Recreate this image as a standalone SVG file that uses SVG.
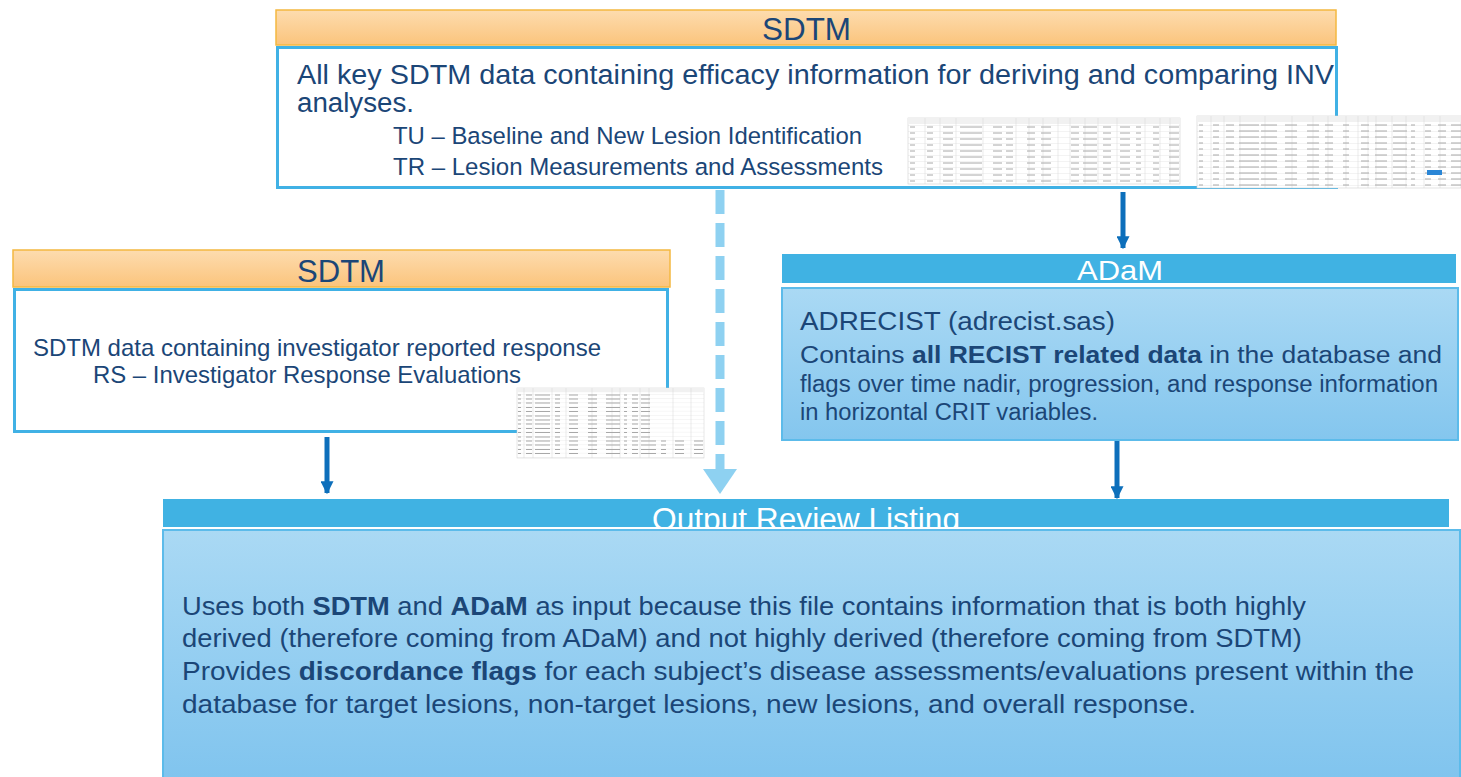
<svg xmlns="http://www.w3.org/2000/svg" width="1461" height="777" viewBox="0 0 1461 777">
<defs>
<linearGradient id="gOrange" x1="0" y1="0" x2="0" y2="1"><stop offset="0" stop-color="#fddcaf"/><stop offset="1" stop-color="#fbc47c"/></linearGradient>
<linearGradient id="gBlue" x1="0" y1="0" x2="0" y2="1"><stop offset="0" stop-color="#aad9f4"/><stop offset="1" stop-color="#84c6ee"/></linearGradient>
<linearGradient id="gBlue2" x1="0" y1="0" x2="0" y2="1"><stop offset="0" stop-color="#aad9f4"/><stop offset="1" stop-color="#80c4ee"/></linearGradient>
<marker id="ah" viewBox="0 0 10 10" refX="9" refY="5" markerWidth="2.6" markerHeight="2.6" orient="auto" markerUnits="strokeWidth"><path d="M0,0 L10,5 L0,10 z" fill="#0d6fbb"/></marker>
<pattern id="rows6" patternUnits="userSpaceOnUse" width="400" height="6"><rect width="400" height="6" fill="#fff"/><line x1="0" y1="5.75" x2="400" y2="5.75" stroke="#dedede" stroke-width="0.5"/></pattern>
<pattern id="rows4" patternUnits="userSpaceOnUse" width="400" height="4.2"><rect width="400" height="4.2" fill="#fff"/><line x1="0" y1="4" x2="400" y2="4" stroke="#dedede" stroke-width="0.4"/></pattern>
<clipPath id="clipOut"><rect x="163" y="499" width="1286" height="28"/></clipPath>
<style>
.hdrO{fill:url(#gOrange);stroke:#f4b840;stroke-width:1.5}
.bodyW{fill:#fff;stroke:#40b1e5;stroke-width:3}
.hdrB{fill:#40b2e3}
.bodyB{stroke:#5cbbea;stroke-width:2}
.t{font-family:"Liberation Sans",Arial,sans-serif;fill:#1b4677}
.hw{font-family:"Liberation Sans",Arial,sans-serif;fill:#ffffff}
.b{font-weight:bold}
.conn{stroke:#0d6fbb;stroke-width:5;fill:none}
.tgrid{stroke:#d4d4d4;stroke-width:0.5}
.tt{stroke:#a8a8a8;stroke-width:1}
</style>
</defs>

<g id="connectors">
<line x1="720" y1="190" x2="720" y2="470" stroke="#8ed1f1" stroke-width="9" stroke-dasharray="24 9"/>
<polygon points="703,469 737,469 720,494" fill="#8ed1f1"/>
<line class="conn" x1="1123" y1="192" x2="1123" y2="248" marker-end="url(#ah)"/>
<line class="conn" x1="327" y1="437" x2="327" y2="493" marker-end="url(#ah)"/>
<line class="conn" x1="1117" y1="441" x2="1117" y2="498" marker-end="url(#ah)"/>
</g>

<g id="sdtm-top">
<rect class="hdrO" x="276" y="10" width="1060" height="35"/>
<text class="t" x="762" y="40" font-size="32" textLength="89" lengthAdjust="spacingAndGlyphs">SDTM</text>
<rect class="bodyW" x="277.5" y="47.5" width="1059" height="140"/>
<text class="t" x="297" y="84" font-size="27" textLength="1037" lengthAdjust="spacingAndGlyphs">All key SDTM data containing efficacy information for deriving and comparing INV</text>
<text class="t" x="297" y="112" font-size="27" textLength="117" lengthAdjust="spacingAndGlyphs">analyses.</text>
<text class="t" x="393" y="144" font-size="24.5" textLength="469" lengthAdjust="spacingAndGlyphs">TU – Baseline and New Lesion Identification</text>
<text class="t" x="393" y="175" font-size="24.5" textLength="490" lengthAdjust="spacingAndGlyphs">TR – Lesion Measurements and Assessments</text>
</g>

<g id="table-tu">
<rect x="908" y="118" width="272" height="66" fill="url(#rows6)" stroke="#d0d0d0" stroke-width="0.6"/>
<rect x="908" y="118" width="272" height="6" fill="#f1f1f1"/>
<g class="tgrid">
<line x1="925" y1="118" x2="925" y2="184"/><line x1="940" y1="118" x2="940" y2="184"/><line x1="956" y1="118" x2="956" y2="184"/><line x1="983" y1="118" x2="983" y2="184"/><line x1="1016" y1="118" x2="1016" y2="184"/><line x1="1029" y1="118" x2="1029" y2="184"/><line x1="1043" y1="118" x2="1043" y2="184"/><line x1="1058" y1="118" x2="1058" y2="184"/><line x1="1070" y1="118" x2="1070" y2="184"/><line x1="1085" y1="118" x2="1085" y2="184"/><line x1="1098" y1="118" x2="1098" y2="184"/><line x1="1117" y1="118" x2="1117" y2="184"/><line x1="1145" y1="118" x2="1145" y2="184"/><line x1="1160" y1="118" x2="1160" y2="184"/><line x1="1170" y1="118" x2="1170" y2="184"/>
</g>
<g class="tt" stroke-dasharray="5 12 6 10 10 7 22 11 9 4 7 14 8 6 10 20 8 4 14 6 8 9 10 6">
<line x1="910" y1="127" x2="1180" y2="127"/><line x1="910" y1="133" x2="1180" y2="133"/><line x1="910" y1="139" x2="1180" y2="139"/><line x1="910" y1="145" x2="1180" y2="145"/><line x1="910" y1="151" x2="1180" y2="151"/><line x1="910" y1="157" x2="1180" y2="157"/><line x1="910" y1="163" x2="1180" y2="163"/><line x1="910" y1="169" x2="1180" y2="169"/><line x1="910" y1="175" x2="1180" y2="175"/><line x1="910" y1="181" x2="1180" y2="181"/>
</g>
</g>

<g id="table-tr">
<rect x="1197" y="116" width="264" height="72" fill="url(#rows6)" stroke="#d0d0d0" stroke-width="0.6"/>
<rect x="1197" y="116" width="264" height="6" fill="#f1f1f1"/>
<g class="tgrid">
<line x1="1211" y1="116" x2="1211" y2="188"/><line x1="1224" y1="116" x2="1224" y2="188"/><line x1="1240" y1="116" x2="1240" y2="188"/><line x1="1265" y1="116" x2="1265" y2="188"/><line x1="1292" y1="116" x2="1292" y2="188"/><line x1="1313" y1="116" x2="1313" y2="188"/><line x1="1328" y1="116" x2="1328" y2="188"/><line x1="1346" y1="116" x2="1346" y2="188"/><line x1="1358" y1="116" x2="1358" y2="188"/><line x1="1368" y1="116" x2="1368" y2="188"/><line x1="1376" y1="116" x2="1376" y2="188"/><line x1="1392" y1="116" x2="1392" y2="188"/><line x1="1406" y1="116" x2="1406" y2="188"/><line x1="1424" y1="116" x2="1424" y2="188"/><line x1="1440" y1="116" x2="1440" y2="188"/>
</g>
<g class="tt" stroke-dasharray="4 10 6 7 8 5 20 2 16 8 12 10 12 6 8 10 6 12 8 6 12 6 14 4">
<line x1="1199" y1="125" x2="1461" y2="125"/><line x1="1199" y1="131" x2="1461" y2="131"/><line x1="1199" y1="137" x2="1461" y2="137"/><line x1="1199" y1="143" x2="1461" y2="143"/><line x1="1199" y1="149" x2="1461" y2="149"/><line x1="1199" y1="155" x2="1461" y2="155"/><line x1="1199" y1="161" x2="1461" y2="161"/><line x1="1199" y1="167" x2="1461" y2="167"/><line x1="1199" y1="173" x2="1461" y2="173"/><line x1="1199" y1="179" x2="1461" y2="179"/><line x1="1199" y1="185" x2="1461" y2="185"/>
</g>
<rect x="1427" y="170" width="15" height="5" fill="#2a86d6"/>
</g>

<g id="sdtm-left">
<rect class="hdrO" x="13" y="250" width="657" height="37"/>
<text class="t" x="297" y="282" font-size="32" textLength="88" lengthAdjust="spacingAndGlyphs">SDTM</text>
<rect class="bodyW" x="14.5" y="289.5" width="653" height="142"/>
<text class="t" x="33" y="356" font-size="24" textLength="568" lengthAdjust="spacingAndGlyphs">SDTM data containing investigator reported response</text>
<text class="t" x="93" y="383" font-size="24" textLength="428" lengthAdjust="spacingAndGlyphs">RS – Investigator Response Evaluations</text>
</g>

<g id="table-rs">
<rect x="517" y="388" width="187" height="70" fill="url(#rows4)" stroke="#d0d0d0" stroke-width="0.5"/>
<rect x="517" y="388" width="187" height="4.2" fill="#f1f1f1"/>
<g class="tgrid">
<line x1="524" y1="388" x2="524" y2="458"/><line x1="533" y1="388" x2="533" y2="458"/><line x1="552" y1="388" x2="552" y2="458"/><line x1="566" y1="388" x2="566" y2="458"/><line x1="592" y1="388" x2="592" y2="458"/><line x1="612" y1="388" x2="612" y2="458"/><line x1="620" y1="388" x2="620" y2="458"/><line x1="640" y1="388" x2="640" y2="458"/><line x1="649" y1="388" x2="649" y2="458"/><line x1="673" y1="388" x2="673" y2="458"/><line x1="691" y1="388" x2="691" y2="458"/>
</g>
<g class="tt" stroke-width="0.8" stroke-dasharray="3 5 6 3 15 5 5 9 9 10 9 9 14 4">
<line x1="518" y1="395" x2="650" y2="395"/><line x1="518" y1="399" x2="650" y2="399"/><line x1="518" y1="403" x2="650" y2="403"/><line x1="518" y1="407.5" x2="650" y2="407.5"/><line x1="518" y1="411.5" x2="650" y2="411.5"/><line x1="518" y1="416" x2="650" y2="416"/><line x1="518" y1="420" x2="650" y2="420"/><line x1="518" y1="424" x2="650" y2="424"/><line x1="518" y1="428.5" x2="650" y2="428.5"/><line x1="518" y1="432.5" x2="650" y2="432.5"/><line x1="518" y1="437" x2="650" y2="437"/><line x1="518" y1="441" x2="704" y2="441"/><line x1="518" y1="445" x2="704" y2="445"/><line x1="518" y1="449.5" x2="704" y2="449.5"/><line x1="518" y1="453.5" x2="704" y2="453.5"/>
</g>
</g>

<g id="adam">
<rect class="hdrB" x="782" y="254" width="674" height="29"/>
<text class="hw" x="1077" y="280" font-size="28.5" textLength="86" lengthAdjust="spacingAndGlyphs">ADaM</text>
<rect class="bodyB" x="782" y="288" width="676" height="152" fill="url(#gBlue)"/>
<text class="t" x="800" y="330" font-size="26.5" textLength="315" lengthAdjust="spacingAndGlyphs">ADRECIST (adrecist.sas)</text>
<text class="t" x="800" y="363" font-size="23.5" textLength="642" lengthAdjust="spacingAndGlyphs">Contains <tspan class="b">all RECIST related data</tspan> in the database and</text>
<text class="t" x="800" y="392" font-size="23.5" textLength="638" lengthAdjust="spacingAndGlyphs">flags over time nadir, progression, and response information</text>
<text class="t" x="800" y="420" font-size="23.5" textLength="298" lengthAdjust="spacingAndGlyphs">in horizontal CRIT variables.</text>
</g>

<g id="output-review">
<rect class="hdrB" x="163" y="499" width="1286" height="28"/>
<text class="hw" x="652" y="530" font-size="31" textLength="308" lengthAdjust="spacingAndGlyphs" clip-path="url(#clipOut)">Output Review Listing</text>
<rect class="bodyB" x="163" y="530" width="1297" height="250" fill="url(#gBlue2)"/>
<text class="t" x="182" y="615" font-size="25.5" textLength="1124" lengthAdjust="spacingAndGlyphs">Uses both <tspan class="b">SDTM</tspan> and <tspan class="b">ADaM</tspan> as input because this file contains information that is both highly</text>
<text class="t" x="182" y="647" font-size="25.5" textLength="1120" lengthAdjust="spacingAndGlyphs">derived (therefore coming from ADaM) and not highly derived (therefore coming from SDTM)</text>
<text class="t" x="182" y="680" font-size="25.5" textLength="1232" lengthAdjust="spacingAndGlyphs">Provides <tspan class="b">discordance flags</tspan> for each subject’s disease assessments/evaluations present within the</text>
<text class="t" x="182" y="713" font-size="25.5" textLength="1014" lengthAdjust="spacingAndGlyphs">database for target lesions, non-target lesions, new lesions, and overall response.</text>
</g>
</svg>
